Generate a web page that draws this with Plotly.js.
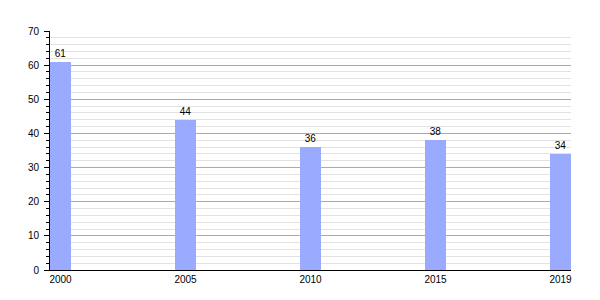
<!DOCTYPE html>
<html>
<head>
<meta charset="utf-8">
<script src="https://cdn.plot.ly/plotly-3.0.1.min.js"></script>
<style>html,body{margin:0;padding:0;background:#fff;}#chart{width:600px;height:300px;}</style>
</head>
<body>
<div id="chart"></div>
<script>
const years = ["2000", "2005", "2010", "2015", "2019"];
const values = [61, 44, 36, 38, 34];

const trace = {
  type: "bar",
  x: years,
  y: values,
  width: 0.168,
  marker: {color: "#99aaff"},
  text: values.map(String),
  textposition: "outside",
  cliponaxis: false,
  textfont: {family: "Liberation Sans, Arial, sans-serif", size: 10, color: "#000"},
  hoverinfo: "none"
};

const layout = {
  width: 600,
  height: 300,
  margin: {l: 50, r: 29, t: 31, b: 30, pad: 0},
  paper_bgcolor: "#fff",
  plot_bgcolor: "#fff",
  showlegend: false,
  font: {family: "Liberation Sans, Arial, sans-serif", size: 10, color: "#000"},
  xaxis: {
    type: "category",
    range: [-0.084, 4.084],
    showgrid: false,
    showline: true,
    linecolor: "#000",
    linewidth: 1,
    ticks: "",
    tickfont: {size: 10},
    zeroline: false,
    fixedrange: true
  },
  yaxis: {
    range: [0, 70],
    dtick: 10,
    tick0: 0,
    showgrid: true,
    gridcolor: "#aaaaaa",
    gridwidth: 1,
    showline: true,
    linecolor: "#000",
    linewidth: 1,
    ticks: "outside",
    ticklen: 5,
    tickcolor: "#000",
    tickfont: {size: 10},
    ticklabelstandoff: 3,
    zeroline: false,
    minor: {dtick: 2, showgrid: true, gridcolor: "#e2e2e2", gridwidth: 1, ticks: "outside", ticklen: 3, tickcolor: "#000"},
    fixedrange: true
  },
  bargap: 0
};

Plotly.newPlot("chart", [trace], layout, {staticPlot: true, displayModeBar: false});
</script>
</body>
</html>
